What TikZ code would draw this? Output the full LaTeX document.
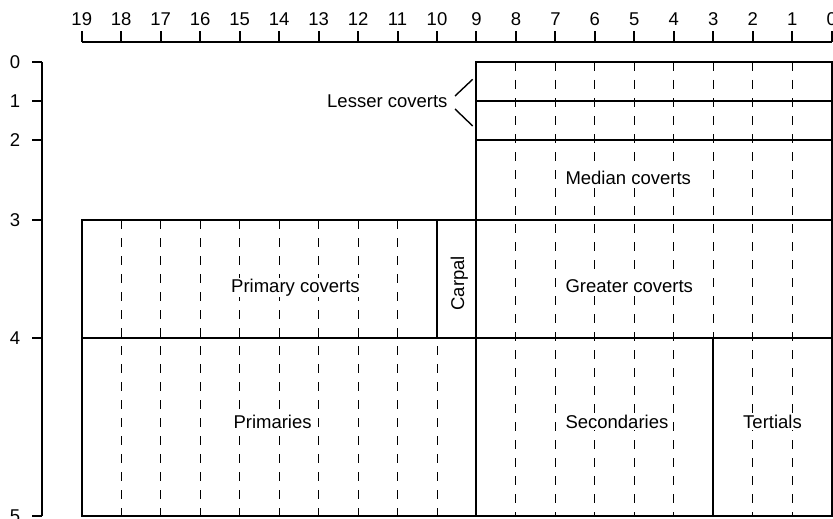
\documentclass[tikz,border=0pt]{standalone}
\usepackage{fontspec}
\setmainfont{Liberation Sans}
\begin{document}
\begin{tikzpicture}[x=1pt,y=-1pt,
  boxline/.style={line width=2pt},
  axisline/.style={line width=2pt},
  gridline/.style={line width=0.9pt, dash pattern=on 9pt off 9pt},
  bracketline/.style={line width=1.4pt},
  lbl/.style={font=\fontsize{18.5}{22}\selectfont, inner sep=1pt, fill=white},
  ticklbl/.style={font=\fontsize{18.5}{22}\selectfont, inner sep=0pt}]
\useasboundingbox (0,0) rectangle (833,519);
% grid coordinates
\foreach \u in {0,...,19} \coordinate (x\u) at ({831.7-39.47*\u},0);
\coordinate (y0) at (0,62);
\coordinate (y1) at (0,101);
\coordinate (y2) at (0,140);
\coordinate (y3) at (0,220);
\coordinate (y4) at (0,338);
\coordinate (y5) at (0,516);
\coordinate (ax) at (0,42);
\coordinate (tl) at (0,19.5);
\coordinate (ay) at (42,0);
\coordinate (lx) at (15,0);
% top axis
\draw[axisline] (x19 |- ax) -- (x0 |- ax);
\foreach \u in {0,...,19} {
  \draw[axisline] (x\u |- ax) -- ++(0,-10.5);
  \node[ticklbl] (t\u) at (x\u |- tl) {\u};
}
% left axis
\draw[axisline] (ay |- y0) -- (ay |- y5);
\foreach \v in {0,...,5} {
  \draw[axisline] (ay |- y\v) -- ++(-10,0);
  \node[ticklbl] (l\v) at (lx |- y\v) {\v};
}
% dashed feather lines
\foreach \u in {1,...,8} \draw[gridline] (x\u |- y0) -- (x\u |- y5);
\foreach \u in {10,...,18} \draw[gridline] (x\u |- y3) -- (x\u |- y5);
% boxes
\draw[boxline] (x9 |- y0) rectangle (x0 |- y5);
\draw[boxline] (x19 |- y3) rectangle (x9 |- y5);
\draw[boxline] (x9 |- y1) -- (x0 |- y1);
\draw[boxline] (x9 |- y2) -- (x0 |- y2);
\draw[boxline] (x9 |- y3) -- (x0 |- y3);
\draw[boxline] (x19 |- y4) -- (x0 |- y4);
\draw[boxline] (x10 |- y3) -- (x10 |- y4);
\draw[boxline] (x3 |- y4) -- (x3 |- y5);
% labels
\node[lbl, anchor=base west] (lesser) at (326,107.3) {Lesser coverts};
\node[lbl, anchor=base west] (median) at (564.3,184.3) {Median coverts};
\node[lbl, anchor=base west] (greater) at (564.3,292.3) {Greater coverts};
\node[lbl, anchor=base west] (pcov) at (230,292.3) {Primary coverts};
\node[lbl, anchor=base west] (prim) at (232.3,428.7) {Primaries};
\node[lbl, anchor=base west] (sec) at (564.3,428.7) {Secondaries};
\node[lbl, anchor=base west] (ter) at (742,428.7) {Tertials};
\node[lbl, rotate=90, anchor=base] (carpal) at (464,283.3) {Carpal};
% lesser coverts bracket
\coordinate (bu1) at (455,96);
\coordinate (bu2) at (472.7,79.3);
\coordinate (bl1) at (455,109);
\coordinate (bl2) at (472.7,126);
\draw[bracketline] (bu1) -- (bu2);
\draw[bracketline] (bl1) -- (bl2);
\end{tikzpicture}
\end{document}
